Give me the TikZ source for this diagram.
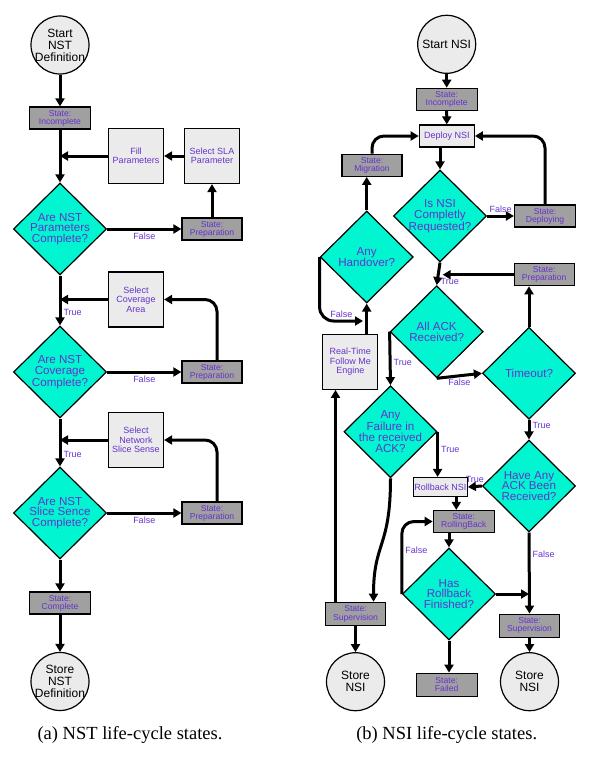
\documentclass[tikz,border=0pt]{standalone}
\usepackage{fontspec}
\setmainfont{Liberation Sans}
\newfontfamily\capfont{Liberation Serif}
\usetikzlibrary{arrows.meta,shapes.geometric}
\definecolor{lilac}{RGB}{102,51,204}
\definecolor{aqua}{RGB}{0,245,208}
\definecolor{stategray}{RGB}{160,160,160}
\definecolor{boxgray}{RGB}{235,235,235}

\begin{document}
\begin{tikzpicture}[x=1bp,y=-1bp,>={Triangle[length=8bp,width=9bp]}]
  \tikzstyle{statebox}=[draw,line width=1.2bp,fill=stategray,text=lilac,minimum width=61bp,minimum height=22bp,inner sep=0,align=center,font=\fontsize{8.6bp}{8.2bp}\selectfont]
  \tikzstyle{task}=[draw,line width=1.2bp,fill=boxgray,text=lilac,minimum width=55bp,minimum height=55bp,inner sep=0,align=center,font=\fontsize{9bp}{9.5bp}\selectfont]
  \tikzstyle{decision}=[diamond,draw,line width=1.2bp,fill=aqua,text=lilac,minimum width=93bp,minimum height=92bp,inner sep=-8bp,align=center,font=\fontsize{11.6bp}{10.8bp}\selectfont]
  \tikzstyle{terminal}=[circle,draw,line width=1.2bp,fill=boxgray,minimum size=58bp,inner sep=-2bp,align=center,font=\fontsize{12bp}{12bp}\selectfont]
  \tikzstyle{flow}=[->,line width=3bp]
  \tikzstyle{cond}=[text=lilac,inner sep=2bp,font=\fontsize{9bp}{9bp}\selectfont]
  \useasboundingbox (0,0) rectangle (591,758);

  % (a) NST
  \node[terminal] (startA) at (60,45) {Start\\NST\\Definition};
  \node[statebox] (incA) at (60,118) {State:\\Incomplete};
  \node[task] (fillA) at (136,156) {Fill\\Parameters};
  \node[task] (slaA) at (212,156) {Select SLA\\Parameter};
  \node[decision] (dA1) at (60,229) {Are NST\\Parameters\\Complete?};
  \node[statebox,minimum width=60bp] (prepA1) at (212,229) {State:\\Preparation};
  \node[task] (covA) at (136,299.5) {Select\\Coverage\\Area};
  \node[decision] (dA2) at (60,372) {Are NST\\Coverage\\Complete?};
  \node[statebox,minimum width=60bp] (prepA2) at (212,372) {State:\\Preparation};
  \node[task] (netA) at (136,440) {Select\\Network\\Slice Sense};
  \node[decision] (dA3) at (60,513) {Are NST\\Slice Sence\\Complete?};
  \node[statebox,minimum width=60bp] (prepA3) at (212,513) {State:\\Preparation};
  \node[statebox] (compA) at (60,603) {State:\\Complete};
  \node[terminal] (storeA) at (60,681.5) {Store\\NST\\Definition};
  \node[font=\capfont\fontsize{18.5bp}{20bp}\selectfont] (capA) at (130,735) {(a) NST life-cycle states.};

  \draw[flow] (startA) -- (incA);
  \draw[flow] (incA) -- (dA1);
  \draw[flow] (fillA) -- (fillA.west -| incA.south);
  \draw[flow] (slaA) -- (fillA);
  \draw[flow] (prepA1) -- (slaA);
  \draw[flow] (dA1) -- node[cond,below] {False} (prepA1);
  \draw[flow] (dA1) -- node[cond,right,pos=0.74] {True} (dA2);
  \draw[flow] (covA) -- (covA.west -| incA.south);
  \draw[flow,rounded corners=12bp] ([xshift=5bp]prepA2.north) |- (covA.east);
  \draw[flow] (dA2) -- node[cond,below] {False} (prepA2);
  \draw[flow] (dA2) -- node[cond,right,pos=0.74] {True} (dA3);
  \draw[flow] (netA) -- (netA.west -| incA.south);
  \draw[flow,rounded corners=12bp] ([xshift=5bp]prepA3.north) |- (netA.east);
  \draw[flow] (dA3) -- node[cond,below] {False} (prepA3);
  \draw[flow] (dA3) -- (compA);
  \draw[flow] (compA) -- (storeA);

  % (b) NSI
  \node[terminal] (startB) at (446.7,44.3) {Start NSI};
  \node[statebox] (incB) at (446.7,99.3) {State:\\Incomplete};
  \node[task,minimum height=22bp] (deployB) at (446.8,136) {Deploy NSI};
  \node[statebox,minimum width=60bp] (migB) at (372,165.3) {State:\\Migration};
  \node[decision] (dB1) at (440,216) {Is NSI\\Completly\\Requested?};
  \node[statebox] (deplB) at (545,216) {State:\\Deploying};
  \node[decision] (handB) at (366.7,257) {Any\\Handover?};
  \node[task] (rtB) at (350.3,361.8) {Real-Time\\Follow Me\\Engine};
  \node[statebox,minimum width=60bp] (prepB) at (544.2,274.7) {State:\\Preparation};
  \node[decision] (dB2) at (436.7,331.7) {All ACK\\Received?};
  \node[decision] (toB) at (529,373.3) {Timeout?};
  \node[decision] (failB) at (390.5,431.7) {Any\\Failure in\\the received\\ACK?};
  \node[task,minimum height=19bp,minimum width=54bp] (rbB) at (440.3,487) {Rollback NSI};
  \node[decision] (haveB) at (529,486) {Have Any\\ACK Been\\Received?};
  \node[statebox] (rollB) at (463.8,521.5) {State:\\RollingBack};
  \node[decision] (finB) at (449,594) {Has\\Rollback\\Finished?};
  \node[statebox,minimum width=60bp,minimum height=23bp] (supB2) at (529.5,625.7) {State:\\Supervision};
  \node[terminal] (storeB2) at (529.5,681.7) {Store\\NSI};
  \node[statebox,minimum height=23bp] (failedB) at (446.7,684.7) {State:\\Failed};
  \node[statebox,minimum width=60bp,minimum height=23bp] (supB1) at (355.5,613.8) {State:\\Supervision};
  \node[terminal] (storeB1) at (355.5,681.7) {Store\\NSI};
  \node[font=\capfont\fontsize{18.5bp}{20bp}\selectfont] (capB) at (446.7,735) {(b) NSI life-cycle states.};
  \coordinate (hfalse) at (363,321);

  \draw[flow] (startB) -- (incB);
  \draw[flow] (incB) -- (deployB);
  \draw[flow] (deployB.south -| dB1.north) -- (dB1.north);
  \draw[flow] (dB1) -- node[cond,above] {False} (deplB);
  \draw[flow,rounded corners=12bp] (deplB.north) |- (deployB.east);
  \draw[flow,rounded corners=12bp] (migB.north) |- (deployB.west);
  \draw[flow] (handB.north) -- (handB.north |- migB.south);
  \draw[flow,rounded corners=14bp] (handB.west) |- node[cond,above,pos=0.75] {False} (hfalse);
  \draw[flow] (handB.south |- rtB.north) -- (handB.south);
  \draw[flow] ([xshift=-20bp]supB1.north) -- ([xshift=-20bp]supB1.north |- rtB.south);
  \draw[flow] (dB1.south) -- node[cond,right,pos=0.85] {True} (dB2.north);
  \draw[flow] (prepB.west) -- ([xshift=6bp]prepB.west -| dB2.north);
  \draw[flow] (toB.north) -- (toB.north |- prepB.south);
  \draw[flow] (dB2.south) -- node[cond,below] {False} (toB.west);
  \draw[flow] (dB2.west) -- node[cond,right,pos=0.57] {True} (failB.north);
  \draw[flow] (failB.east) -- node[cond,right,pos=0.4] {True} (failB.east |- rbB.north);
  \draw[flow] (toB.south) -- node[cond,right,pos=0.3] {True} (haveB.north);
  \draw[flow] (haveB.west) -- node[cond,above] {True} (rbB.east);
  \draw[flow] ([xshift=16bp]rbB.south) -- ([xshift=16bp]rbB.south |- rollB.north);
  \draw[flow] (finB.north |- rollB.south) -- (finB.north);
  \draw[flow,rounded corners=12bp] (finB.west) |- node[cond,right,pos=0.3] {False} (rollB.west);
  \draw[flow] (finB.east) -- (finB.east -| haveB.south);
  \draw[flow] (haveB.south) -- node[cond,right,pos=0.27] {False} (supB2.north);
  \draw[flow] (supB2) -- (storeB2);
  \draw[flow] (finB.south) -- (finB.south |- failedB.north);
  \draw[flow] (failB.south) .. controls +(0,70) and +(0,-60) .. ([xshift=18bp]supB1.north);
  \draw[flow] (supB1) -- (storeB1);
\end{tikzpicture}
\end{document}
